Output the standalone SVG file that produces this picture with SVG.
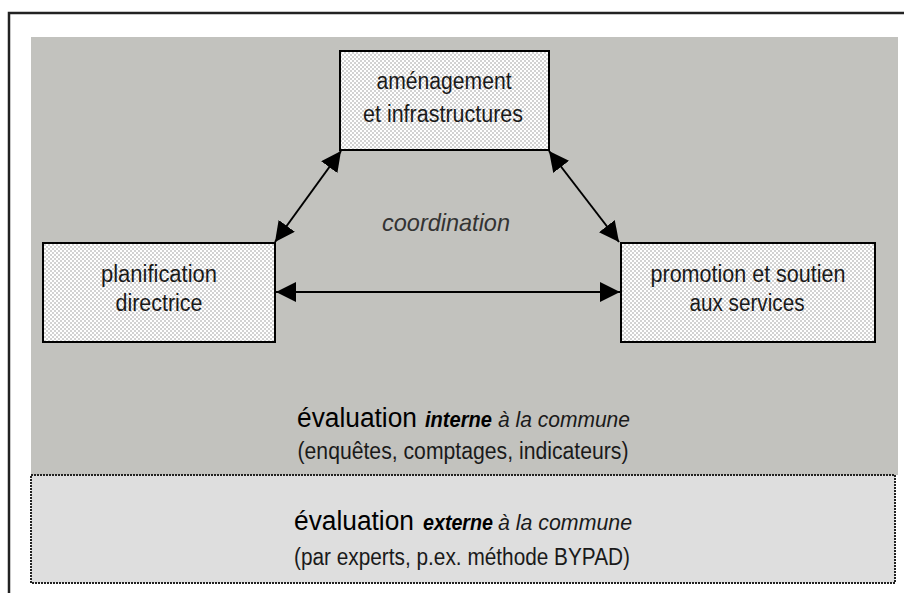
<svg xmlns="http://www.w3.org/2000/svg" width="904" height="593" viewBox="0 0 904 593">
<style>
text{font-family:"Liberation Sans Narrow","Liberation Sans",Arial,sans-serif;fill:#1a1a1a}
.lbl{font-size:23px;text-anchor:middle}
.big{font-size:27px;fill:#000}
.em{font-size:22px;font-style:italic;font-weight:bold;fill:#000}
.it{font-size:22px;font-style:italic}
.box{fill:url(#chk);stroke:#000;stroke-width:2}
.con{stroke:#000;stroke-width:2;fill:none;marker-start:url(#ah);marker-end:url(#ah)}
</style>
<defs>
<pattern id="chk" width="4" height="4" patternUnits="userSpaceOnUse">
<rect width="4" height="4" fill="#ffffff"/>
<rect width="2" height="2" fill="#d2d2d2"/>
<rect x="2" y="2" width="2" height="2" fill="#d2d2d2"/>
</pattern>
<marker id="ah" viewBox="0 0 20 20" refX="20" refY="10" markerWidth="20" markerHeight="20" markerUnits="userSpaceOnUse" orient="auto-start-reverse">
<path d="M0,0 L20,10 L0,20 Z" fill="#000"/>
</marker>
</defs>
<rect width="904" height="593" fill="#fff"/>
<path d="M9,593 V13 H904" fill="none" stroke="#222" stroke-width="2.5"/>
<rect x="31" y="37" width="867" height="438" fill="#c2c2be"/>
<rect x="31" y="475" width="864" height="108" fill="#dedede" stroke="#222" stroke-width="2" stroke-dasharray="2 1"/>
<g id="connectors">
<line class="con" x1="275" y1="242" x2="341" y2="151"/>
<line class="con" x1="549" y1="151" x2="619" y2="242"/>
<line class="con" x1="276" y1="292" x2="620" y2="292"/>
</g>
<g id="node-amenagement">
<rect class="box" x="340" y="51" width="209" height="99"/>
<text class="lbl" x="444" y="89" textLength="135" lengthAdjust="spacingAndGlyphs">aménagement</text>
<text class="lbl" x="443" y="122" textLength="160" lengthAdjust="spacingAndGlyphs">et infrastructures</text>
</g>
<g id="node-planification">
<rect class="box" x="43" y="243" width="232" height="99"/>
<text class="lbl" x="159" y="282" textLength="116" lengthAdjust="spacingAndGlyphs">planification</text>
<text class="lbl" x="159" y="311" textLength="87" lengthAdjust="spacingAndGlyphs">directrice</text>
</g>
<g id="node-promotion">
<rect class="box" x="621" y="243" width="254" height="99"/>
<text class="lbl" x="748" y="282" textLength="195" lengthAdjust="spacingAndGlyphs">promotion et soutien</text>
<text class="lbl" x="747" y="311" textLength="115" lengthAdjust="spacingAndGlyphs">aux services</text>
</g>
<g id="label-coordination">
<text x="446" y="231" textLength="128" lengthAdjust="spacingAndGlyphs" style="font-size:24px;font-style:italic;text-anchor:middle;fill:#333">coordination</text>
</g>
<g id="eval-interne">
<text class="big" x="297" y="427" textLength="120" lengthAdjust="spacingAndGlyphs">évaluation</text>
<text class="em" x="425" y="427" textLength="67" lengthAdjust="spacingAndGlyphs">interne</text>
<text class="it" x="498" y="427" textLength="132" lengthAdjust="spacingAndGlyphs">à la commune</text>
<text class="lbl" x="463" y="459" textLength="331" lengthAdjust="spacingAndGlyphs">(enquêtes, comptages, indicateurs)</text>
</g>
<g id="eval-externe">
<text class="big" x="294" y="530" textLength="120" lengthAdjust="spacingAndGlyphs">évaluation</text>
<text class="em" x="423" y="530" textLength="70" lengthAdjust="spacingAndGlyphs">externe</text>
<text class="it" x="498" y="530" textLength="134" lengthAdjust="spacingAndGlyphs">à la commune</text>
<text class="lbl" x="462" y="565" textLength="336" lengthAdjust="spacingAndGlyphs">(par experts, p.ex. méthode BYPAD)</text>
</g>
</svg>
